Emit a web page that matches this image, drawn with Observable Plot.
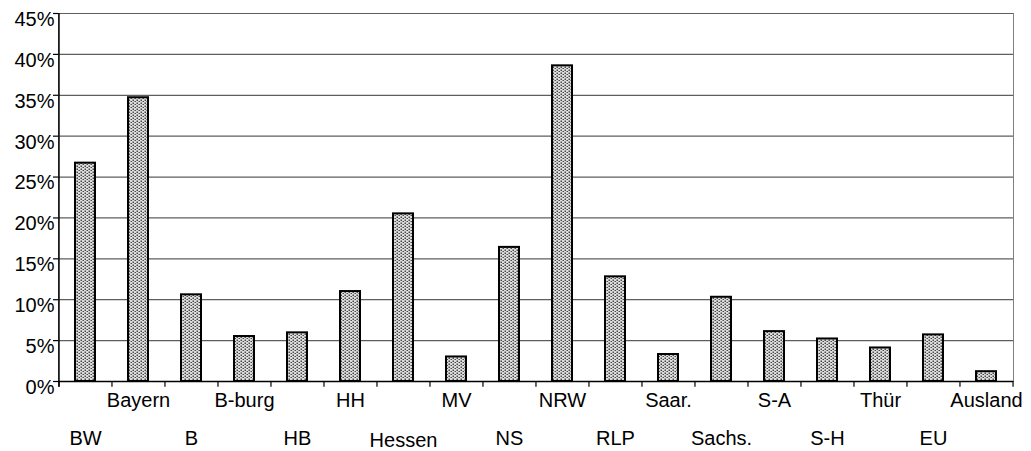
<!DOCTYPE html>
<html>
<head>
<meta charset="utf-8">
<script src="https://cdn.jsdelivr.net/npm/d3@7"></script>
<script src="https://cdn.jsdelivr.net/npm/@observablehq/plot@0.6"></script>
<style>
  html, body { margin: 0; padding: 0; background: #fff; }
  svg { display: block; }
</style>
</head>
<body>
<div id="chart"></div>
<script>
const categories = ["BW","Bayern","B","B-burg","HB","HH","Hessen","MV","NS","NRW","RLP","Saar.","Sachs.","S-A","S-H","Thür","EU","Ausland"];
const shares = [26.7, 34.7, 10.6, 5.5, 5.95, 11.0, 20.5, 3.0, 16.4, 38.6, 12.8, 3.3, 10.3, 6.1, 5.2, 4.1, 5.7, 1.2];
const yTicks = [0, 5, 10, 15, 20, 25, 30, 35, 40, 45];

const data = categories.map((c, i) => ({cat: c, v: shares[i], i}));
const upperRow = categories.filter((d, i) => i % 2 === 1);
const lowerRow = categories.filter((d, i) => i % 2 === 0 && d !== "Hessen");
const lowerShifted = categories.filter((d, i) => i % 2 === 0 && d === "Hessen");

const W = 1031, H = 451;
const mL = 58, mR = 18, mT = 13, mB = 70;
const step = (W - mL - mR) / categories.length;
const pIn = 1 - 20 / step;

const chart = Plot.plot({
  width: W,
  height: H,
  marginLeft: mL,
  marginRight: mR,
  marginTop: mT,
  marginBottom: mB,
  style: {fontFamily: "'Liberation Sans', Arial, sans-serif", fontSize: "20px", color: "#000", background: "#fff"},
  x: {domain: categories, paddingInner: pIn, paddingOuter: pIn / 2, axis: null},
  y: {domain: [0, 45], axis: null},
  marks: [
    Plot.frame({stroke: "#808080"}),
    Plot.ruleY(yTicks, {stroke: "#5e5e5e", strokeWidth: 1.2}),
    Plot.barY(data, {x: "cat", y: "v", fill: "url(#dots)", stroke: "#000", strokeWidth: 2}),
    Plot.ruleY([0], {stroke: "#000", strokeWidth: 1.5}),
    // left axis line
    Plot.ruleX([categories[0]], {x: d => d, y1: -0.7, y2: 45, dx: -step / 2, stroke: "#000", strokeWidth: 1.5}),
    // band boundary ticks
    Plot.ruleX(categories, {x: d => d, y1: -0.7, y2: 0, dx: -step / 2, stroke: "#000", strokeWidth: 1.2}),
    Plot.ruleX([categories[categories.length - 1]], {x: d => d, y1: -0.7, y2: 0, dx: step / 2, stroke: "#000", strokeWidth: 1.2}),
    // y tick marks
    Plot.tickY(yTicks, {y: d => d, frameAnchor: "left"}),
    Plot.text(yTicks, {y: d => d, text: d => d + "%", frameAnchor: "left", textAnchor: "end", dx: -4, dy: 6, fontSize: 20, fill: "#000"}),
    Plot.text(upperRow, {x: d => d, frameAnchor: "bottom", lineAnchor: "top", dy: 11, fontSize: 20, fill: "#000"}),
    Plot.text(lowerRow, {x: d => d, frameAnchor: "bottom", lineAnchor: "top", dy: 49, fontSize: 20, fill: "#000"}),
    Plot.text(lowerShifted, {x: d => d, frameAnchor: "bottom", lineAnchor: "top", dy: 51, fontSize: 20, fill: "#000"})
  ]
});

// y tick marks: shorten the tickY lines to small ticks left of the axis
chart.querySelectorAll("g[aria-label='tick'] line").forEach(l => {
  l.setAttribute("x1", mL - 5);
  l.setAttribute("x2", mL);
  l.setAttribute("stroke", "#000");
  l.setAttribute("stroke-width", "1.2");
});

// dotted fill pattern
const ns = "http://www.w3.org/2000/svg";
const defs = document.createElementNS(ns, "defs");
const pat = document.createElementNS(ns, "pattern");
pat.setAttribute("id", "dots");
pat.setAttribute("patternUnits", "userSpaceOnUse");
pat.setAttribute("width", "4");
pat.setAttribute("height", "3");
const bg = document.createElementNS(ns, "rect");
bg.setAttribute("width", "4"); bg.setAttribute("height", "3"); bg.setAttribute("fill", "#dcdcdc");
pat.appendChild(bg);
[[0.5, 0.5], [2.5, 2]].forEach(([x, y]) => {
  const r = document.createElementNS(ns, "rect");
  r.setAttribute("x", x); r.setAttribute("y", y);
  r.setAttribute("width", "1.5"); r.setAttribute("height", "1.5");
  r.setAttribute("fill", "#4a4a4a");
  pat.appendChild(r);
});
defs.appendChild(pat);
chart.insertBefore(defs, chart.firstChild);

document.getElementById("chart").appendChild(chart);
</script>
</body>
</html>
